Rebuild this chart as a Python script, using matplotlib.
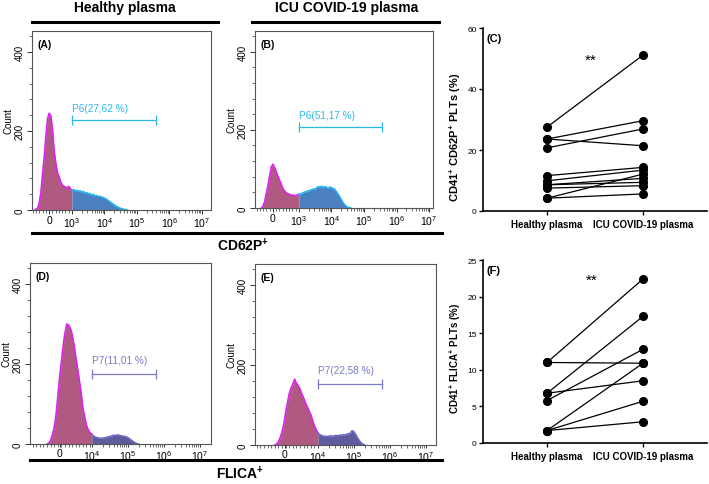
import numpy as np
import matplotlib
matplotlib.use('Agg')
import matplotlib.pyplot as plt
from matplotlib.lines import Line2D
from matplotlib.ticker import FixedLocator, MultipleLocator

plt.rcParams['font.family'] = ['Liberation Sans', 'DejaVu Sans']
plt.rcParams['mathtext.fontset'] = 'custom'
plt.rcParams['mathtext.rm'] = 'Liberation Sans'
plt.rcParams['mathtext.it'] = 'Liberation Sans:italic'
plt.rcParams['mathtext.bf'] = 'Liberation Sans:bold'

# ---------------- data ----------------
# histogram counts per channel bin (channel in decades, bin width 0.05)
hist_a_start = 1.85
hist_a_counts = [0, 2, 6, 20, 50, 95, 138, 190, 232, 245, 238, 205, 150, 120, 95, 85, 72, 64,
                 60, 58, 55, 60, 54, 50, 52, 48, 50, 47, 49, 45, 47, 43, 44, 41, 42, 38, 40,
                 36, 37, 34, 35, 33, 32, 30, 28, 25, 22, 19, 16, 13, 10, 8, 6, 4, 3, 2, 1, 0]
hist_b_start = 1.85
hist_b_counts = [0, 5, 18, 38, 58, 82, 105, 112, 104, 94, 82, 72, 62, 52, 44, 40, 37, 35, 34,
                 32, 33, 31, 34, 35, 36, 38, 40, 41, 43, 44, 46, 47, 49, 48, 52, 55, 53, 56,
                 52, 55, 53, 50, 54, 52, 50, 48, 42, 36, 30, 22, 15, 9, 5, 2, 1, 0]
hist_d_start = 2.75
hist_d_counts = [0, 2, 8, 22, 40, 70, 115, 165, 205, 245, 277, 300, 298, 290, 275, 250, 220,
                 190, 160, 128, 90, 68, 46, 35, 28, 24, 20, 17, 16, 15, 14, 15, 16, 16, 18,
                 19, 20, 22, 21, 23, 22, 21, 20, 19, 18, 16, 13, 9, 6, 3, 1, 0]
hist_e_start = 2.80
hist_e_counts = [0, 2, 8, 18, 32, 52, 80, 105, 128, 142, 152, 165, 155, 148, 140, 128, 118,
                 106, 96, 86, 76, 62, 48, 38, 30, 26, 24, 22, 22, 21, 22, 23, 22, 23, 24, 23,
                 25, 24, 26, 25, 27, 28, 30, 36, 33, 26, 18, 11, 5, 2, 0]
bin_width = 0.05

gate_labels = ['P6(27,62 %)', 'P6(51,17 %)', 'P7(11,01 %)', 'P7(22,58 %)']

groups = ['Healthy plasma', 'ICU COVID-19 plasma']
c_healthy = [27.5, 23.6, 23.6, 20.7, 11.6, 9.9, 8.6, 8.6, 7.5, 4.2, 4.2]
c_icu = [51.1, 29.6, 21.4, 26.9, 14.3, 13.4, 10.7, 9.4, 8.3, 12.1, 5.6]
f_healthy = [11.0, 11.0, 6.8, 6.8, 5.8, 1.7, 1.7, 1.7]
f_icu = [22.4, 10.9, 17.3, 8.5, 12.8, 10.9, 5.7, 2.9]

# ---------------- figure ----------------
W, H = 709, 485
fig = plt.figure(figsize=(W / 100, H / 100), dpi=100)


def rect(l, t, r, b):
    return [l / W, 1 - b / H, (r - l) / W, (b - t) / H]


def fx(x):
    return x / W


def fy(y):
    return 1 - y / H


PRE_FILL = '#b05a82'
PRE_EDGE = '#dc22f0'


def hist_panel(ax, start, counts, gate, gate_end, gate_y, text_y, label, letter,
               post_fill, post_edge, gate_col, xlim, zero_pos, decades, lin_minor,
               xpad=0.8, xlen=3):
    counts = np.asarray(counts, dtype=float)
    chan = np.round(start + bin_width * np.arange(len(counts)), 3)
    pre = chan <= gate + 1e-9
    post = chan >= gate - 1e-9
    ax.fill_between(chan[pre], counts[pre], color=PRE_FILL, lw=0)
    ax.fill_between(chan[post], counts[post], color=post_fill, lw=0)
    ax.plot(chan[pre], counts[pre], color=PRE_EDGE, lw=1.2)
    ax.plot(chan[post], counts[post], color=post_edge, lw=1.1)
    # gate
    ax.plot([gate, gate_end], [gate_y, gate_y], color=gate_col, lw=0.9)
    ax.plot([gate, gate_end], [gate_y, gate_y], ls='none', marker='|', ms=7,
            mew=0.9, color=gate_col)
    ax.text(gate, text_y, label, color=gate_col, fontsize=7.2, ha='left', va='center')
    ax.text(0.03, 0.955, letter, transform=ax.transAxes, fontsize=7.5, weight='bold',
            ha='left', va='top')
    ax.set_xlim(*xlim)
    ax.set_ylim(0, 453)
    major = [zero_pos] + list(decades)
    labels = ['0'] + [r'$\mathregular{10^{%d}}$' % d for d in decades]
    ax.xaxis.set_major_locator(FixedLocator(major))
    ax.set_xticklabels(labels)
    minors = list(lin_minor)
    for d in range(int(decades[0]), int(decades[-1])):
        for k in range(2, 10):
            minors.append(d + np.log10(k))
    ax.xaxis.set_minor_locator(FixedLocator(minors))
    ax.set_yticks([0, 200, 400])
    ax.yaxis.set_minor_locator(MultipleLocator(40))
    for t in ax.get_yticklabels():
        t.set_rotation(90)
        t.set_va('center')
    ax.tick_params(axis='x', which='major', labelsize=7.5, length=xlen, width=0.7,
                   color='#333333', pad=xpad)
    ax.tick_params(axis='y', which='major', labelsize=7, length=3.5, width=0.7,
                   color='#333333', pad=1.5)
    ax.tick_params(axis='both', which='minor', length=2, width=0.5, color='#333333')
    for s in ax.spines.values():
        s.set_color('#555555')
        s.set_linewidth(0.8)
    ax.set_ylabel('Count', fontsize=7, labelpad=1)


BLUE_FILL = '#4a7fc0'
BLUE_EDGE = '#1eb4f2'
PURP_FILL = '#5f5c9e'
PURP_EDGE = '#6b68c6'
CYAN_GATE = '#2bb6ef'
LAV_GATE = '#7a7ac6'

axA = fig.add_axes(rect(32, 32, 211, 211))
hist_panel(axA, hist_a_start, hist_a_counts, 3.0, 5.6, 229, 258, gate_labels[0], '(A)',
           BLUE_FILL, BLUE_EDGE, CYAN_GATE, (1.77, 7.28), 2.30, [3, 4, 5, 6, 7],
           np.arange(1.8, 3.0, 0.1))

axB = fig.add_axes(rect(255, 32, 433, 209))
hist_panel(axB, hist_b_start, hist_b_counts, 3.0, 5.55, 208, 238, gate_labels[1], '(B)',
           BLUE_FILL, BLUE_EDGE, CYAN_GATE, (1.65, 7.12), 2.19, [3, 4, 5, 6, 7],
           np.arange(1.7, 3.0, 0.1))

axD = fig.add_axes(rect(30, 264, 211, 445))
hist_panel(axD, hist_d_start, hist_d_counts, 4.0, 5.78, 176, 209, gate_labels[2], '(D)',
           PURP_FILL, PURP_EDGE, LAV_GATE, (2.28, 7.31), 3.11, [4, 5, 6, 7],
           np.arange(2.35, 4.0, 0.1), xpad=0.2, xlen=2.5)

axE = fig.add_axes(rect(255, 265, 436, 446))
hist_panel(axE, hist_e_start, hist_e_counts, 4.0, 5.77, 153, 187, gate_labels[3], '(E)',
           PURP_FILL, PURP_EDGE, LAV_GATE, (2.25, 7.28), 3.08, [4, 5, 6, 7],
           np.arange(2.3, 4.0, 0.1), xpad=0.2, xlen=2.5)


def pair_panel(ax, h, i, ylim, yticks, ylabel, yl_size, letter, star_xy, label_y):
    for a, b in zip(h, i):
        ax.plot([0, 1], [a, b], color='black', lw=0.9, marker='o', ms=5.5,
                mfc='black', mec='black', clip_on=False)
    ax.set_xlim(-0.667, 1.667)
    ax.set_ylim(*ylim)
    ax.set_yticks(yticks)
    ax.set_xticks([0, 1])
    ax.set_xticklabels(groups, fontsize=7, weight='bold')
    ax.tick_params(axis='y', labelsize=6, length=3, width=1.0, pad=1.5)
    ax.tick_params(axis='x', length=3, width=1.0, pad=3)
    for s in ('top', 'right'):
        ax.spines[s].set_visible(False)
    for s in ('left', 'bottom'):
        ax.spines[s].set_linewidth(1.2)
    ax.set_ylabel(ylabel, fontsize=yl_size, weight='bold')
    ax.yaxis.set_label_coords(-0.09, label_y)
    ax.text(star_xy[0], star_xy[1], '**', ha='center', va='center', fontsize=11)
    ax.text(0.015, 0.975, letter, transform=ax.transAxes, fontsize=8, weight='bold',
            ha='left', va='top')


axC = fig.add_axes(rect(483, 29, 707, 212))
pair_panel(axC, c_healthy, c_icu, (0, 60), [0, 20, 40, 60],
           r'CD41$^{\mathbf{+}}$ CD62P$^{\mathbf{+}}$ PLTs (%)', 8, '(C)', (0.45, 49.5), 0.41)

axF = fig.add_axes(rect(483, 261, 707, 444))
pair_panel(axF, f_healthy, f_icu, (0, 25), [0, 5, 10, 15, 20, 25],
           r'CD41$^{\mathbf{+}}$ FLICA$^{\mathbf{+}}$ PLTs (%)', 7, '(F)', (0.46, 22.3), 0.47)

# ---------------- headers and rules ----------------
fig.text(fx(125), fy(8), 'Healthy plasma', ha='center', va='center', fontsize=10,
         weight='bold')
fig.text(fx(347), fy(8), 'ICU COVID-19 plasma', ha='center', va='center', fontsize=10,
         weight='bold')
for (x0, x1, y) in [(32, 218, 23), (252, 439, 23), (32, 442, 234), (30, 442, 461)]:
    fig.add_artist(Line2D([fx(x0), fx(x1)], [fy(y), fy(y)], color='black', lw=2.2,
                          transform=fig.transFigure))
fig.text(fx(243), fy(246), r'CD62P$^{\mathbf{+}}$', ha='center', va='center',
         fontsize=10, weight='bold')
fig.text(fx(240), fy(474), r'FLICA$^{\mathbf{+}}$', ha='center', va='center',
         fontsize=10, weight='bold')

fig.savefig('out.png', dpi=100)
